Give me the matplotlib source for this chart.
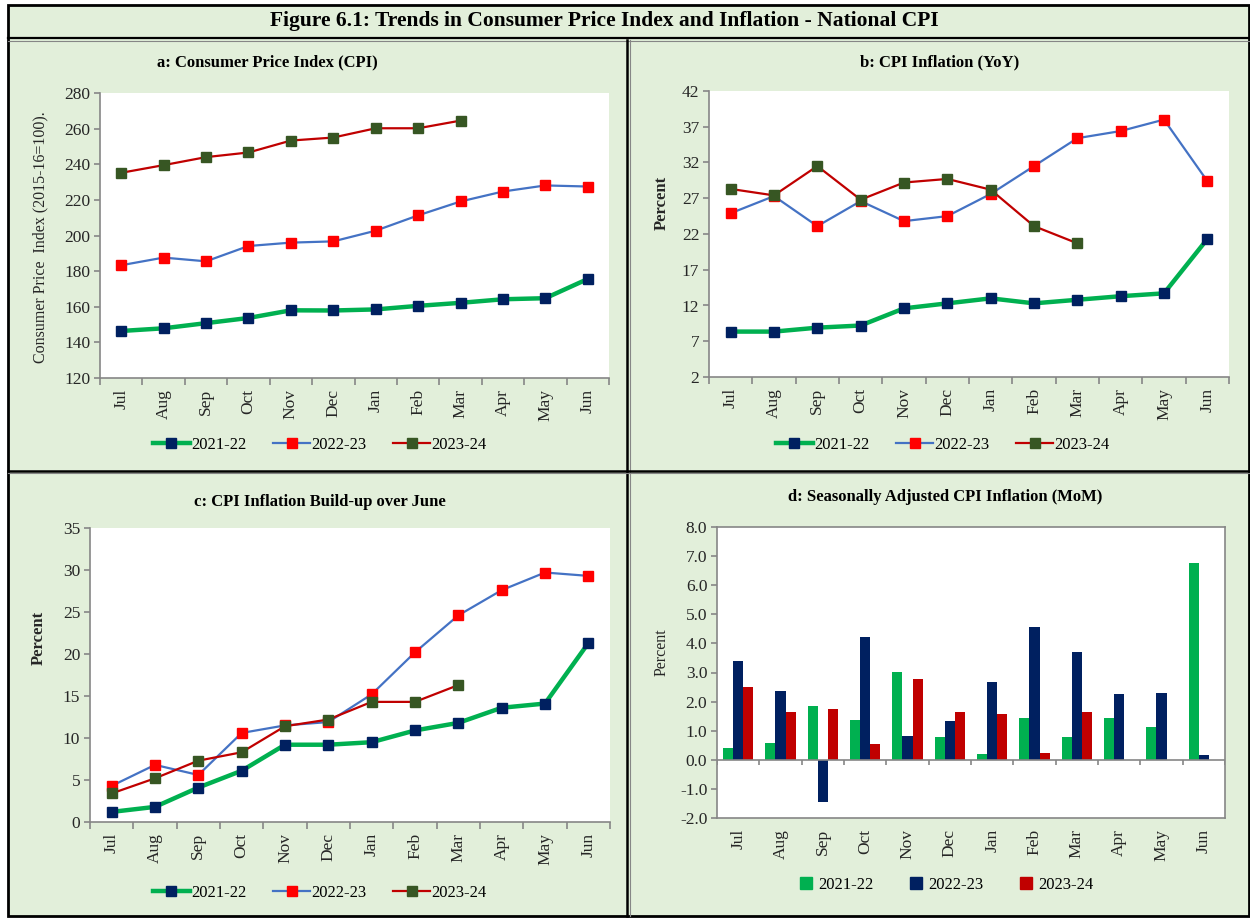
import numpy as np
import matplotlib.pyplot as plt
from matplotlib.lines import Line2D
from matplotlib.patches import Patch

plt.rcParams['font.family'] = ['Liberation Serif', 'DejaVu Serif']

# Data
months = ["Jul", "Aug", "Sep", "Oct", "Nov", "Dec", "Jan", "Feb", "Mar", "Apr", "May", "Jun"]
years = ["2021-22", "2022-23", "2023-24"]

cpi_2122 = [146.4, 147.9, 150.8, 153.7, 158.0, 157.9, 158.5, 160.5, 162.2, 164.2, 164.8, 175.6]
cpi_2223 = [183.3, 187.6, 185.5, 194.1, 196.0, 196.7, 202.7, 211.3, 219.1, 224.7, 228.1, 227.5]
cpi_2324 = [235.2, 239.5, 244.0, 246.6, 253.3, 255.0, 260.2, 260.2, 264.5, np.nan, np.nan, np.nan]

yoy_2122 = [8.35, 8.35, 8.9, 9.2, 11.6, 12.3, 13.0, 12.3, 12.8, 13.3, 13.7, 21.3]
yoy_2223 = [24.9, 27.3, 23.1, 26.6, 23.8, 24.5, 27.6, 31.5, 35.4, 36.4, 38.0, 29.4]
yoy_2324 = [28.3, 27.4, 31.5, 26.8, 29.2, 29.7, 28.2, 23.1, 20.7, np.nan, np.nan, np.nan]

bu_2122 = [1.2, 1.8, 4.1, 6.1, 9.2, 9.2, 9.5, 10.9, 11.8, 13.6, 14.1, 21.3]
bu_2223 = [4.3, 6.8, 5.6, 10.6, 11.5, 11.9, 15.2, 20.2, 24.6, 27.6, 29.7, 29.3]
bu_2324 = [3.4, 5.2, 7.3, 8.3, 11.4, 12.2, 14.3, 14.3, 16.3, np.nan, np.nan, np.nan]

mom_2122 = [0.41, 0.58, 1.84, 1.37, 3.02, 0.80, 0.20, 1.42, 0.77, 1.42, 1.11, 6.75]
mom_2223 = [3.38, 2.38, -1.45, 4.22, 0.81, 1.34, 2.68, 4.57, 3.69, 2.25, 2.29, 0.16]
mom_2324 = [2.51, 1.64, 1.73, 0.55, 2.77, 1.64, 1.59, 0.24, 1.64, np.nan, np.nan, np.nan]

# Styles
BG = "#E2EFDA"
GRAY = "#868686"
TXT = "#262626"
W, H = 1250, 918
line_styles = [
    dict(color="#00B050", lw=3.2, marker="s", ms=7.5, mfc="#002060", mec="#002060"),
    dict(color="#4472C4", lw=1.6, marker="s", ms=7.5, mfc="#FF0000", mec="#FF0000"),
    dict(color="#C00000", lw=1.6, marker="s", ms=7.5, mfc="#375623", mec="#375623"),
]
bar_colors = ["#00B050", "#002060", "#C00000"]

fig = plt.figure(figsize=(W / 100, H / 100), dpi=100, facecolor="white")

# frame in pixel coordinates
bg = fig.add_axes([0, 0, 1, 1], zorder=-10)
bg.set_xlim(0, W)
bg.set_ylim(H, 0)
bg.axis("off")
bg.add_patch(plt.Rectangle((8, 5), W - 9, H - 7, facecolor=BG, edgecolor="black", lw=2))
bg.plot([8, W - 1], [38, 38], color="black", lw=1.6)
bg.plot([8, W - 1], [40.5, 40.5], color=GRAY, lw=0.8)
bg.plot([626.5, 626.5], [40, H - 2], color="black", lw=1.8)
bg.plot([629.5, 629.5], [40, H - 2], color=GRAY, lw=0.8)
bg.plot([8, W - 1], [470.5, 470.5], color="black", lw=1.8)
bg.plot([8, W - 1], [473, 473], color=GRAY, lw=0.8)

fig.text(604 / W, 1 - 21 / H, "Figure 6.1: Trends in Consumer Price Index and Inflation - National CPI",
         ha="center", va="center", fontsize=15.5, fontweight="bold", color="black")


def make_axes(left, top, right, bottom):
    return fig.add_axes([left / W, 1 - bottom / H, (right - left) / W, (bottom - top) / H])


def style_axes(ax, full_box=False):
    ax.set_facecolor("white")
    for s in ["top", "right"]:
        ax.spines[s].set_visible(full_box)
    for s in ax.spines.values():
        s.set_color(GRAY)
        s.set_linewidth(1.2)
    ax.set_xlim(-0.5, 11.5)
    ax.set_xticks(range(12))
    ax.set_xticklabels(months, rotation=90, fontsize=12.5, color=TXT)
    ax.set_xticks(np.arange(-0.5, 12, 1), minor=True)
    ax.tick_params(axis="x", which="major", length=0, pad=8)
    ax.tick_params(axis="x", which="minor", length=5, color=GRAY, width=1.2)
    ax.tick_params(axis="y", length=4, color=GRAY, width=1.2, labelsize=12.5, labelcolor=TXT, pad=3)


def line_panel(ax, series, ylim, ystep, title, title_xy, ylabel, ylabel_xy, bold_label, legend_xy):
    style_axes(ax)
    for vals, st, name in zip(series, line_styles, years):
        ax.plot(range(12), vals, label=name, **st)
    ax.set_ylim(*ylim)
    ax.set_yticks(np.arange(ylim[0], ylim[1] + 0.1, ystep))
    fig.text(title_xy[0] / W, 1 - title_xy[1] / H, title, ha="center", va="center",
             fontsize=12, fontweight="bold")
    fig.text(ylabel_xy[0] / W, 1 - ylabel_xy[1] / H, ylabel, ha="center", va="center", rotation=90,
             fontsize=12 if bold_label else 11.5, fontweight="bold" if bold_label else "normal", color=TXT)
    handles = [Line2D([], [], **st) for st in line_styles]
    fig.legend(handles, years, loc="center", bbox_to_anchor=(legend_xy[0] / W, 1 - legend_xy[1] / H),
               ncol=3, frameon=False, fontsize=12, numpoints=1, handlelength=2.2,
               columnspacing=1.6, handletextpad=0.1)


# a: CPI
ax_a = make_axes(100, 93, 609, 378)
line_panel(ax_a, [cpi_2122, cpi_2223, cpi_2324], (120, 280), 20, "a: Consumer Price Index (CPI)",
           (267, 62), "Consumer Price  Index (2015-16=100).", (40, 237), False, (320, 445))

# b: YoY
ax_b = make_axes(709, 91, 1229, 377)
line_panel(ax_b, [yoy_2122, yoy_2223, yoy_2324], (2, 42), 5, "b: CPI Inflation (YoY)",
           (940, 62), "Percent", (662, 203), True, (943, 445))

# c: build-up
ax_c = make_axes(90, 528, 610, 822)
line_panel(ax_c, [bu_2122, bu_2223, bu_2324], (0, 35), 5, "c: CPI Inflation Build-up over June",
           (320, 502), "Percent", (39, 638), True, (320, 893))

# d: seasonally adjusted MoM
ax_d = make_axes(717, 527, 1225, 818)
style_axes(ax_d, full_box=True)
ax_d.tick_params(axis="x", which="minor", length=0)
ax_d.set_ylim(-2, 8)
ax_d.set_yticks(np.arange(-2, 8.1, 1))
ax_d.set_yticklabels(["%.1f" % v for v in np.arange(-2, 8.1, 1)])
bw = 0.24
x = np.arange(12)
for i, (vals, c, name) in enumerate(zip([mom_2122, mom_2223, mom_2324], bar_colors, years)):
    ax_d.bar(x + (i - 1) * bw, vals, width=bw, color=c, label=name, zorder=2)
ax_d.axhline(0, color=GRAY, lw=1.2, zorder=3)
ax_d.vlines(np.arange(-0.5, 12, 1), -0.17, 0, color=GRAY, lw=1.2, zorder=3)
fig.text(945 / W, 1 - 497 / H, "d: Seasonally Adjusted CPI Inflation (MoM)", ha="center", va="center",
         fontsize=12, fontweight="bold")
fig.text(662 / W, 1 - 652 / H, "Percent", ha="center", va="center", rotation=90, fontsize=11.5, color=TXT)
fig.legend([Patch(color=c) for c in bar_colors], years, loc="center",
           bbox_to_anchor=(947 / W, 1 - 885 / H), ncol=3, frameon=False, fontsize=12,
           handlelength=0.7, handleheight=0.7, columnspacing=2.2, handletextpad=0.4)

fig.savefig("out.png", dpi=100, facecolor="white")
